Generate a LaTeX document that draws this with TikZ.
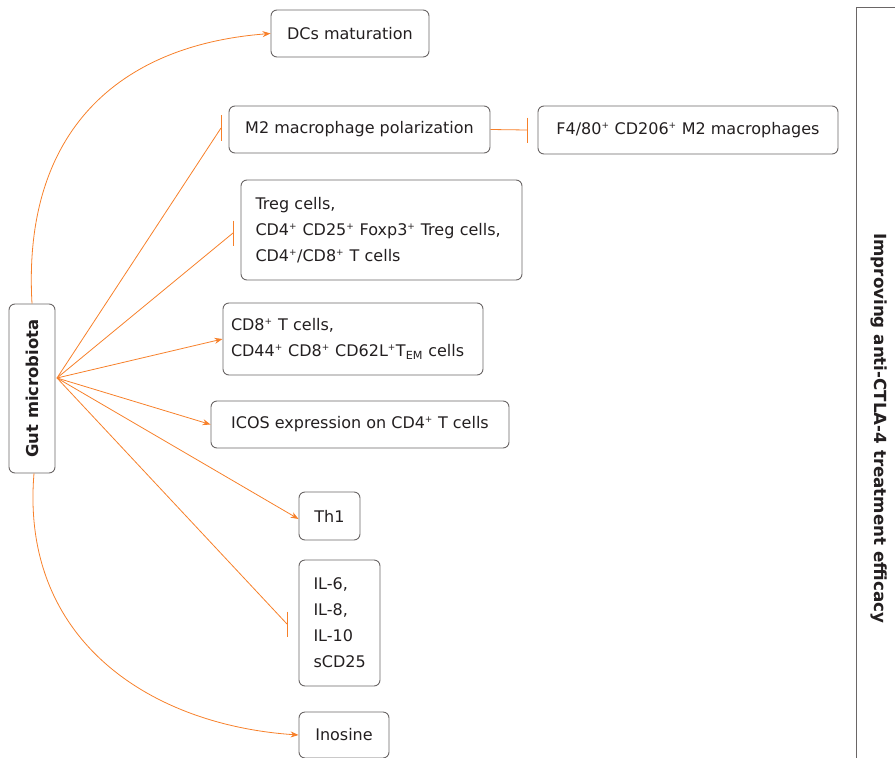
\documentclass[tikz,border=0pt]{standalone}
\usepackage{fontspec}
\setmainfont{DejaVu Sans}
\usetikzlibrary{arrows.meta}
\definecolor{orng}{HTML}{F7802A}
\definecolor{bord}{HTML}{6A6666}
\definecolor{txt}{HTML}{231F20}
\newcommand{\sps}{\textsuperscript{\scalebox{0.8}{+}}}
\tikzset{
  bx/.style={draw=bord, line width=0.9pt, rounded corners=6pt, inner sep=0pt, text=txt,
    font=\fontsize{16}{26}\selectfont},
  act/.style={draw=orng, line width=0.8pt, -{Stealth[length=8pt,width=6pt]}},
  inh/.style={draw=orng, line width=0.8pt},
  barst/.style={draw=orng, line width=0.8pt},
}
\begin{document}
\begin{tikzpicture}[x=1pt,y=-1pt]
\useasboundingbox (0,0) rectangle (895,758);
\node[bx, minimum width=158pt, minimum height=47pt] (dc) at (350,33.5) {DCs maturation};
\node[bx, minimum width=261pt, minimum height=47pt] (m2) at (359.5,129.5) {M2 macrophage polarization};
\node[bx, minimum width=300pt, minimum height=48pt] (f4) at (688,130) {F4/80\sps{} CD206\sps{} M2 macrophages};
\node[bx, minimum width=281pt, minimum height=100pt, text width=252pt, align=left] (tr) at (381.5,230)
  {Treg cells,\\CD4\sps{} CD25\sps{} Foxp3\sps{} Treg cells,\\CD4\sps/CD8\sps{} T cells};
\node[bx, minimum width=260pt, minimum height=72pt, text width=244pt, align=left] (c8) at (353,339)
  {CD8\sps{} T cells,\\CD44\sps{} CD8\sps{} CD62L\sps T\textsubscript{EM} cells};
\node[bx, minimum width=298pt, minimum height=47pt] (ic) at (360,424.5) {ICOS expression on CD4\sps{} T cells};
\node[bx, minimum width=61pt, minimum height=48pt] (th) at (329.5,516) {Th1};
\node[bx, minimum width=81pt, minimum height=126pt, text width=52pt, align=left] (il) at (339.5,623)
  {IL-6,\\IL-8,\\IL-10\\sCD25};
\node[bx, minimum width=90pt, minimum height=46pt] (in) at (344,735) {Inosine};
\node[bx, minimum width=46pt, minimum height=169pt] (gm) at (32,388.5) {};
\node[rotate=90, text=txt, font=\fontsize{16.4}{18}\bfseries] (gml) at (gm.center) {Gut microbiota};
\coordinate (hub) at (57,378);
% inhibition end points
\coordinate (em2) at (221,128);
\coordinate (etr) at (233,233);
\coordinate (eil) at (287,624);
\coordinate (ef4) at (527,130);
% connectors
\draw[act] (gm.north) .. controls (22,130) and (120,45) .. (dc.west);
\draw[inh] (hub) -- (em2);
\draw[barst] ([yshift=13pt]em2) -- ([yshift=-13pt]em2);
\draw[inh] (hub) -- (etr);
\draw[barst] ([yshift=12.5pt]etr) -- ([yshift=-12.5pt]etr);
\draw[act] (hub) -- (c8.west);
\draw[act] (hub) -- (ic.west);
\draw[act] (hub) -- ([yshift=-3pt]th.west);
\draw[inh] (hub) -- (eil);
\draw[barst] ([yshift=12.5pt]eil) -- ([yshift=-12.5pt]eil);
\draw[act] ([xshift=2pt]gm.south) .. controls (20,640) and (150,725) .. (in.west);
\draw[inh] (m2.east) -- (ef4);
\draw[barst] ([yshift=12.5pt]ef4) -- ([yshift=-12.5pt]ef4);
% right bracket
\coordinate (rt) at (856,7);
\coordinate (rb) at (856,758);
\coordinate (re) at (895,7);
\draw[bord, line width=0.8pt] (re) -- (rt) -- (rb);
\node[rotate=-90, anchor=west, inner sep=0pt, text=txt, font=\fontsize{16.7}{18}\bfseries] (eff) at (879,233) {Improving anti-CTLA-4 treatment efficacy};
\end{tikzpicture}
\end{document}
